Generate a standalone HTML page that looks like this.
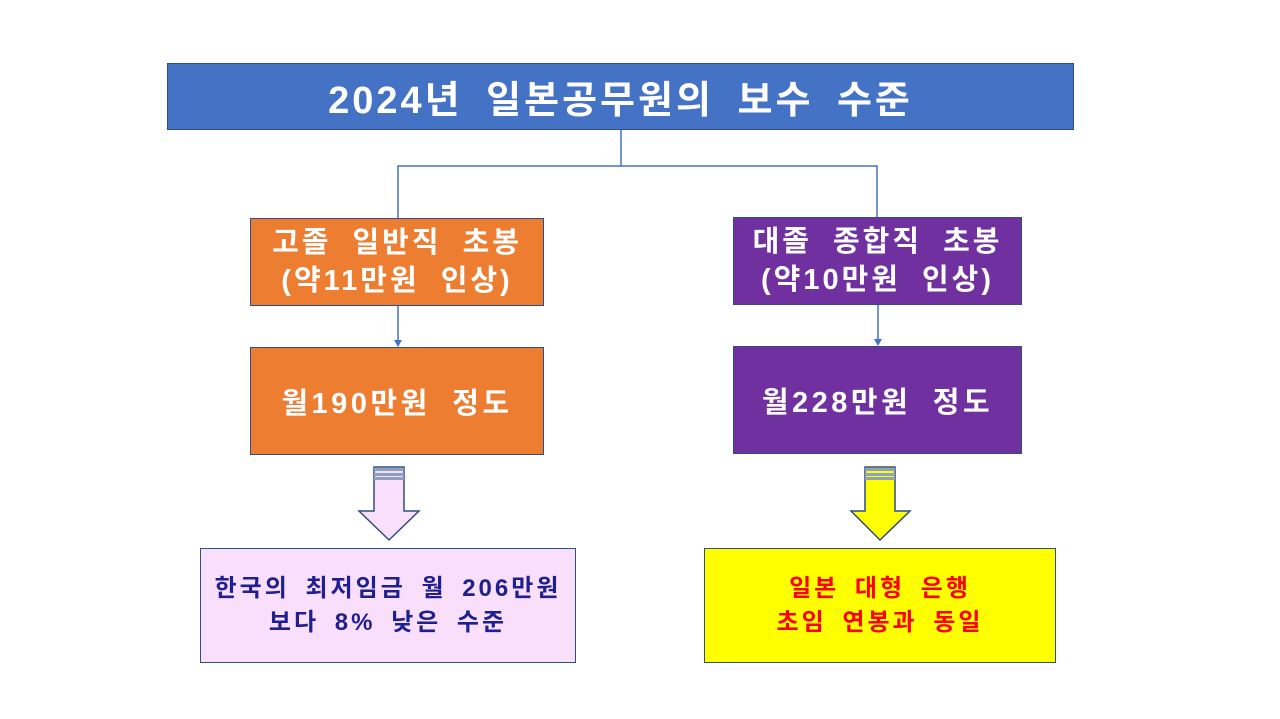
<!DOCTYPE html>
<html><head><meta charset="utf-8"><style>
html,body{margin:0;padding:0;background:#fff;}
body{width:1280px;height:719px;position:relative;overflow:hidden;font-family:"Liberation Sans","Noto Sans CJK KR",sans-serif;font-weight:bold;}
.b{position:absolute;box-sizing:border-box;display:flex;align-items:center;justify-content:center;text-align:center;border:1px solid #2F4E82;}
svg{position:absolute;left:0;top:0;}
</style></head><body>
<svg width="1280" height="719">
<g stroke="#4472C4" stroke-width="1.5" fill="none">
<path d="M621 129 V166 H398 V218 M621 166 H877 V217"/>
<path d="M398 305 V343 M878 304 V342"/>
</g>
<path d="M394 340 L398 347 L402 340 Z M874 339 L878 346 L882 339 Z" fill="#4472C4"/>
<g stroke="#2F4E82" stroke-width="1.5">
<path d="M374 467 H404 V511 H419 L389 540 L359 511 H374 Z" fill="#F9DFFB"/>
<path d="M865 467 H895 V511 H910 L880 540 L851 511 H865 Z" fill="#FFFF00"/>
</g>
<g fill="#8EA0C0"><rect x="374" y="468" width="30" height="3"/><rect x="374" y="473" width="30" height="3"/><rect x="374" y="477" width="30" height="3"/>
<rect x="865" y="468" width="30" height="3"/><rect x="865" y="473" width="30" height="3"/><rect x="865" y="477" width="30" height="3"/></g>
</svg>
<div class="b" style="left:167px;top:63px;width:907px;height:67px;background:#4472C4;color:#fff;font-size:38px;letter-spacing:3px;word-spacing:10px;">2024년 일본공무원의 보수 수준</div>
<div class="b" style="left:250px;top:218px;width:294px;height:88px;background:#ED7D31;color:#fff;font-size:29px;line-height:38px;letter-spacing:3px;word-spacing:10px;">고졸 일반직 초봉<br>(약11만원 인상)</div>
<div class="b" style="left:733px;top:217px;width:289px;height:88px;background:#7030A0;color:#fff;font-size:29px;line-height:38px;letter-spacing:3px;word-spacing:10px;">대졸 종합직 초봉<br>(약10만원 인상)</div>
<div class="b" style="left:250px;top:347px;width:294px;height:108px;background:#ED7D31;color:#fff;font-size:29px;letter-spacing:3.5px;word-spacing:10px;">월190만원 정도</div>
<div class="b" style="left:733px;top:346px;width:289px;height:108px;background:#7030A0;color:#fff;font-size:29px;letter-spacing:3.5px;word-spacing:10px;">월228만원 정도</div>
<div class="b" style="left:200px;top:548px;width:376px;height:115px;background:#F9DFFB;color:#1F1F8F;font-size:24px;line-height:34px;letter-spacing:3px;word-spacing:6px;">한국의 최저임금 월 206만원<br>보다 8% 낮은 수준</div>
<div class="b" style="left:704px;top:548px;width:352px;height:115px;background:#FFFF00;color:#FF0000;font-size:24px;line-height:34px;letter-spacing:3px;word-spacing:6px;">일본 대형 은행<br>초임 연봉과 동일</div>
</body></html>
